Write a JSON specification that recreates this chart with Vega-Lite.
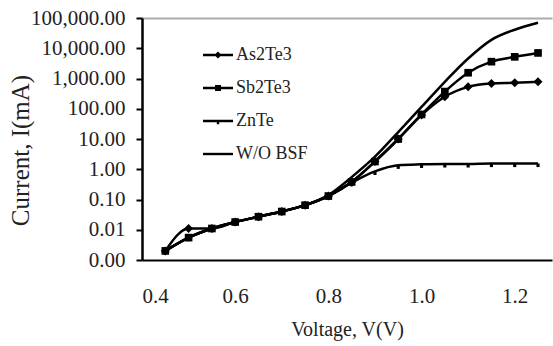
{
  "$schema": "https://vega.github.io/schema/vega-lite/v6.json",
  "width": 410,
  "height": 242,
  "autosize": {"type": "none"},
  "padding": {"left": 142, "top": 18, "right": 1, "bottom": 86},
  "background": "white",
  "config": {
    "view": {"stroke": null},
    "font": "Liberation Serif"
  },
  "data": {
    "values": [
      {"series": "As2Te3", "v": 0.45, "i": 0.002},
      {"series": "As2Te3", "v": 0.5, "i": 0.011},
      {"series": "As2Te3", "v": 0.55, "i": 0.011},
      {"series": "As2Te3", "v": 0.6, "i": 0.018},
      {"series": "As2Te3", "v": 0.65, "i": 0.027},
      {"series": "As2Te3", "v": 0.7, "i": 0.04},
      {"series": "As2Te3", "v": 0.75, "i": 0.065},
      {"series": "As2Te3", "v": 0.8, "i": 0.13},
      {"series": "As2Te3", "v": 0.85, "i": 0.38},
      {"series": "As2Te3", "v": 0.9, "i": 1.8},
      {"series": "As2Te3", "v": 0.95, "i": 10},
      {"series": "As2Te3", "v": 1.0, "i": 62},
      {"series": "As2Te3", "v": 1.05, "i": 250},
      {"series": "As2Te3", "v": 1.1, "i": 530},
      {"series": "As2Te3", "v": 1.15, "i": 680},
      {"series": "As2Te3", "v": 1.2, "i": 720},
      {"series": "As2Te3", "v": 1.25, "i": 780},
      {"series": "Sb2Te3", "v": 0.45, "i": 0.002},
      {"series": "Sb2Te3", "v": 0.5, "i": 0.0055},
      {"series": "Sb2Te3", "v": 0.55, "i": 0.011},
      {"series": "Sb2Te3", "v": 0.6, "i": 0.018},
      {"series": "Sb2Te3", "v": 0.65, "i": 0.027},
      {"series": "Sb2Te3", "v": 0.7, "i": 0.04},
      {"series": "Sb2Te3", "v": 0.75, "i": 0.065},
      {"series": "Sb2Te3", "v": 0.8, "i": 0.13},
      {"series": "Sb2Te3", "v": 0.85, "i": 0.38},
      {"series": "Sb2Te3", "v": 0.9, "i": 1.8},
      {"series": "Sb2Te3", "v": 0.95, "i": 10},
      {"series": "Sb2Te3", "v": 1.0, "i": 65},
      {"series": "Sb2Te3", "v": 1.05, "i": 370},
      {"series": "Sb2Te3", "v": 1.1, "i": 1550},
      {"series": "Sb2Te3", "v": 1.15, "i": 3600},
      {"series": "Sb2Te3", "v": 1.2, "i": 5200},
      {"series": "Sb2Te3", "v": 1.25, "i": 7000},
      {"series": "ZnTe", "v": 0.45, "i": 0.002},
      {"series": "ZnTe", "v": 0.5, "i": 0.0055},
      {"series": "ZnTe", "v": 0.55, "i": 0.011},
      {"series": "ZnTe", "v": 0.6, "i": 0.018},
      {"series": "ZnTe", "v": 0.65, "i": 0.027},
      {"series": "ZnTe", "v": 0.7, "i": 0.04},
      {"series": "ZnTe", "v": 0.75, "i": 0.065},
      {"series": "ZnTe", "v": 0.8, "i": 0.13},
      {"series": "ZnTe", "v": 0.85, "i": 0.36},
      {"series": "ZnTe", "v": 0.9, "i": 0.85},
      {"series": "ZnTe", "v": 0.95, "i": 1.35},
      {"series": "ZnTe", "v": 1.0, "i": 1.45},
      {"series": "ZnTe", "v": 1.05, "i": 1.5},
      {"series": "ZnTe", "v": 1.1, "i": 1.5},
      {"series": "ZnTe", "v": 1.15, "i": 1.55},
      {"series": "ZnTe", "v": 1.2, "i": 1.55},
      {"series": "ZnTe", "v": 1.25, "i": 1.55},
      {"series": "W/O BSF", "v": 0.45, "i": 0.002},
      {"series": "W/O BSF", "v": 0.5, "i": 0.0055},
      {"series": "W/O BSF", "v": 0.55, "i": 0.011},
      {"series": "W/O BSF", "v": 0.6, "i": 0.018},
      {"series": "W/O BSF", "v": 0.65, "i": 0.027},
      {"series": "W/O BSF", "v": 0.7, "i": 0.04},
      {"series": "W/O BSF", "v": 0.75, "i": 0.065},
      {"series": "W/O BSF", "v": 0.8, "i": 0.14},
      {"series": "W/O BSF", "v": 0.85, "i": 0.55},
      {"series": "W/O BSF", "v": 0.9, "i": 2.6},
      {"series": "W/O BSF", "v": 0.95, "i": 17},
      {"series": "W/O BSF", "v": 1.0, "i": 115},
      {"series": "W/O BSF", "v": 1.05, "i": 780},
      {"series": "W/O BSF", "v": 1.1, "i": 4600},
      {"series": "W/O BSF", "v": 1.15, "i": 19000},
      {"series": "W/O BSF", "v": 1.2, "i": 41000},
      {"series": "W/O BSF", "v": 1.25, "i": 70000}
    ]
  },
  "encoding": {
    "x": {
      "field": "v", "type": "quantitative",
      "scale": {"domain": [0.4, 1.28], "nice": false, "zero": false},
      "axis": {
        "values": [0.4, 0.6, 0.8, 1.0, 1.2], "format": ".1f",
        "ticks": false, "tickSize": 0, "grid": false,
        "domainColor": "black", "domainWidth": 2,
        "labelFont": "Liberation Serif", "labelColor": "#222",
        "labelFontSize": 21, "labelPadding": 25,
        "title": "Voltage, V(V)", "titleFont": "Liberation Serif", "titleColor": "#222",
        "titleFontWeight": "normal", "titleFontSize": 20, "titlePadding": 13
      }
    },
    "y": {
      "field": "i", "type": "quantitative",
      "scale": {"type": "log", "domain": [0.001, 100000], "nice": false},
      "axis": {
        "values": [0.001, 0.01, 0.1, 1, 10, 100, 1000, 10000, 100000],
        "format": ",.2f",
        "tickSize": 6, "tickColor": "black", "tickWidth": 2,
        "domainColor": "black", "domainWidth": 2.5,
        "labelFont": "Liberation Serif", "labelColor": "#222",
        "labelFontSize": 21, "labelPadding": 11,
        "grid": true, "gridColor": "#aaaaaa", "gridWidth": 2,
        "gridOpacity": {"condition": {"test": "datum.value >= 100000", "value": 1}, "value": 0},
        "title": "Current, I(mA)", "titleFont": "Liberation Serif", "titleColor": "#222",
        "titleFontWeight": "normal", "titleFontSize": 25,
        "titleX": -122, "titleY": 132, "titleBaseline": "middle", "titleAngle": -90
      }
    }
  },
  "layer": [
    {
      "mark": {"type": "line", "interpolate": "monotone", "strokeWidth": 2.5, "color": "black"},
      "encoding": {"detail": {"field": "series", "type": "nominal"}}
    },
    {
      "mark": {"type": "point", "filled": true, "color": "black", "opacity": 1, "size": 81},
      "encoding": {
        "shape": {
          "field": "series", "type": "nominal",
          "scale": {
            "domain": ["As2Te3", "Sb2Te3", "ZnTe", "W/O BSF"],
            "range": ["M0,-1L1,0L0,1L-1,0Z", "M-0.85,-0.85H0.85V0.85H-0.85Z", "M-0.35,0H0.35V0.8H-0.35Z", "M0,0"]
          },
          "legend": null
        }
      }
    },
    {
      "mark": {"type": "point", "filled": true, "color": "black", "opacity": 0, "size": 900},
      "encoding": {
        "shape": {
          "field": "series", "type": "nominal",
          "scale": {
            "domain": ["As2Te3", "Sb2Te3", "ZnTe", "W/O BSF"],
            "range": [
              "M-1,-0.08H1V0.08H-1ZM0,-0.24L0.24,0L0,0.24L-0.24,0Z",
              "M-1,-0.08H1V0.08H-1ZM-0.2,-0.2H0.2V0.2H-0.2Z",
              "M-1,-0.08H1V0.08H-1ZM-0.08,0H0.08V0.22H-0.08Z",
              "M-1,-0.08H1V0.08H-1Z"
            ]
          },
          "legend": {
            "title": null,
            "orient": "none", "legendX": 60, "legendY": 21,
            "padding": 0, "rowPadding": 8, "labelOffset": 2,
            "labelFont": "Liberation Serif", "labelFontSize": 18, "labelColor": "#222",
            "symbolSize": 900, "symbolOpacity": 1,
            "symbolFillColor": "black"
          }
        }
      }
    }
  ],
  "resolve": {"scale": {"shape": "independent"}}
}
